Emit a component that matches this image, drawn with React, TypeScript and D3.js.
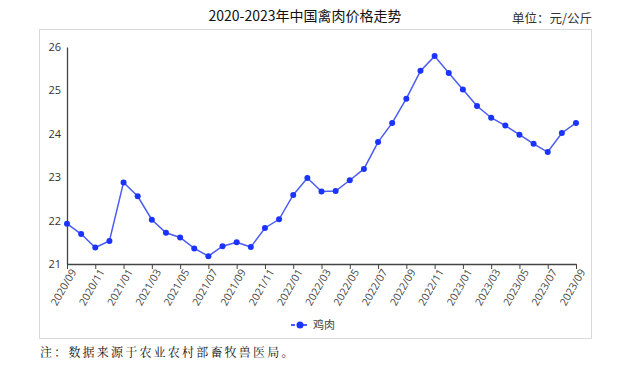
import * as d3 from 'd3';
import { useEffect, useRef } from 'react';

// Monthly labels 2020/09 - 2023/09
const months = [
  '2020/09', '2020/10', '2020/11', '2020/12',
  '2021/01', '2021/02', '2021/03', '2021/04', '2021/05', '2021/06',
  '2021/07', '2021/08', '2021/09', '2021/10', '2021/11', '2021/12',
  '2022/01', '2022/02', '2022/03', '2022/04', '2022/05', '2022/06',
  '2022/07', '2022/08', '2022/09', '2022/10', '2022/11', '2022/12',
  '2023/01', '2023/02', '2023/03', '2023/04', '2023/05', '2023/06',
  '2023/07', '2023/08', '2023/09',
];

// 鸡肉 price (元/公斤)
const chicken = [
  21.93, 21.69, 21.38, 21.53,
  22.88, 22.56, 22.02, 21.72, 21.61, 21.36,
  21.18, 21.41, 21.5, 21.39, 21.83, 22.03,
  22.59, 22.98, 22.67, 22.68, 22.93, 23.19,
  23.81, 24.25, 24.81, 25.45, 25.79, 25.4,
  25.02, 24.64, 24.37, 24.19, 23.98, 23.77,
  23.58, 24.02, 24.25,
];

const yTicks = [21, 22, 23, 24, 25, 26];
const seriesName = '鸡肉';

export default function App() {
  const ref = useRef<SVGSVGElement>(null);

  const width = 632;
  const height = 367;
  const plot = { left: 67, right: 576, top: 47, bottom: 264 };
  const lineColor = '#4b5cf2';
  const dotColor = '#1a33ff';
  const font = '"Microsoft YaHei", "Noto Sans CJK SC", sans-serif';

  useEffect(() => {
    const svg = d3.select(ref.current);
    svg.selectAll('*').remove();

    const x = d3
      .scalePoint<string>()
      .domain(months)
      .range([plot.left, plot.right]);
    const y = d3
      .scaleLinear()
      .domain([21, 26])
      .range([plot.bottom, plot.top]);

    // title
    svg
      .append('text')
      .attr('x', 305)
      .attr('y', 21)
      .attr('text-anchor', 'middle')
      .attr('font-size', 14)
      .attr('font-family', font)
      .attr('fill', '#111')
      .text('2020-2023年中国禽肉价格走势');

    svg
      .append('text')
      .attr('x', 592)
      .attr('y', 23)
      .attr('text-anchor', 'end')
      .attr('font-size', 12.5)
      .attr('font-family', font)
      .attr('fill', '#333')
      .text('单位：元/公斤');

    // frame
    svg
      .append('rect')
      .attr('x', 39.5)
      .attr('y', 29.5)
      .attr('width', 552)
      .attr('height', 309)
      .attr('fill', 'none')
      .attr('stroke', '#d9d9d9');

    // y axis
    const yAxis = d3
      .axisLeft(y)
      .tickValues(yTicks)
      .tickSize(0)
      .tickPadding(6)
      .tickFormat(d3.format('d'));
    const gy = svg
      .append('g')
      .attr('transform', `translate(${plot.left},0)`)
      .call(yAxis);
    gy.select('.domain').attr('stroke', '#444').attr('stroke-width', 1.3);
    gy.selectAll('text')
      .attr('font-size', 11)
      .attr('font-family', 'Open Sans, sans-serif')
      .attr('fill', '#333');

    // x axis
    const xAxis = d3.axisBottom(x).tickSize(5).tickSizeOuter(0).tickPadding(3);
    const gx = svg
      .append('g')
      .attr('transform', `translate(0,${plot.bottom})`)
      .call(xAxis);
    gx.select('.domain').attr('stroke', '#444').attr('stroke-width', 1.3);
    gx.selectAll('.tick line').attr('stroke', '#444');
    gx.selectAll('.tick')
      .filter((d, i) => i % 2 === 1)
      .select('text')
      .remove();
    gx.selectAll('.tick')
      .filter((d, i) => i % 2 === 1)
      .select('line')
      .remove();
    gx.selectAll('text')
      .attr('font-size', 10.5)
      .attr('font-family', 'Open Sans, sans-serif')
      .attr('fill', '#444')
      .attr('text-anchor', 'end')
      .attr('dy', '0.35em')
      .attr('transform', 'translate(6,6) rotate(-60)')
      .attr('x', 0)
      .attr('y', 0);

    // line
    const line = d3
      .line<number>()
      .x((d, i) => x(months[i]) as number)
      .y((d) => y(d));
    svg
      .append('path')
      .datum(chicken)
      .attr('d', line)
      .attr('fill', 'none')
      .attr('stroke', lineColor)
      .attr('stroke-width', 1.5);

    svg
      .selectAll('circle.pt')
      .data(chicken)
      .enter()
      .append('circle')
      .attr('class', 'pt')
      .attr('cx', (d, i) => x(months[i]) as number)
      .attr('cy', (d) => y(d))
      .attr('r', 3)
      .attr('fill', dotColor);

    // legend
    const lg = svg.append('g').attr('transform', 'translate(300,325)');
    lg.append('line')
      .attr('x1', -9)
      .attr('x2', 9)
      .attr('stroke', lineColor)
      .attr('stroke-width', 2)
      .attr('stroke-dasharray', '4 2');
    lg.append('circle').attr('r', 3.5).attr('fill', dotColor);
    lg.append('text')
      .attr('x', 13)
      .attr('dy', '0.35em')
      .attr('font-size', 11)
      .attr('font-family', font)
      .attr('fill', '#444')
      .text(seriesName);

    // footnote
    svg
      .append('text')
      .attr('x', 40)
      .attr('y', 357)
      .attr('font-size', 12)
      .attr('letter-spacing', 2.2)
      .attr('font-family', '"Noto Serif CJK SC", serif')
      .attr('fill', '#111')
      .text('注：数据来源于农业农村部畜牧兽医局。');
  }, []);

  return (
    <svg
      ref={ref}
      width={width}
      height={height}
      style={{ position: 'absolute', left: 0, top: 0, background: '#fff' }}
    />
  );
}
